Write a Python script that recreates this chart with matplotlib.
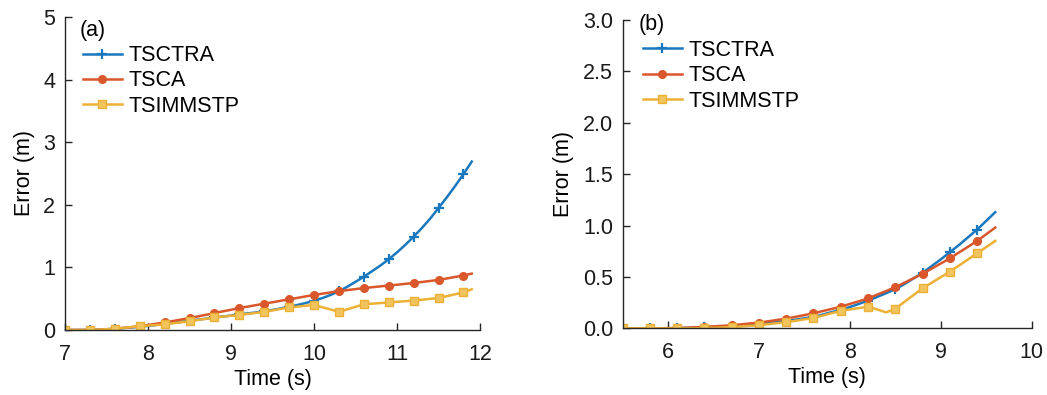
# Tracking error comparison, two panels (a) and (b)

import numpy as np
import matplotlib
matplotlib.use('Agg')
import matplotlib.pyplot as plt
from matplotlib.ticker import FormatStrFormatter

# ---- data (0.1 s steps, markers every 0.3 s) ----
time_a = [7.0, 7.1, 7.2, 7.3, 7.4, 7.5, 7.6, 7.7, 7.8, 7.9,
          8.0, 8.1, 8.2, 8.3, 8.4, 8.5, 8.6, 8.7, 8.8, 8.9,
          9.0, 9.1, 9.2, 9.3, 9.4, 9.5, 9.6, 9.7, 9.8, 9.9,
          10.0, 10.1, 10.2, 10.3, 10.4, 10.5, 10.6, 10.7, 10.8, 10.9,
          11.0, 11.1, 11.2, 11.3, 11.4, 11.5, 11.6, 11.7, 11.8, 11.9]
tsctra_a = [0, 0, 0, 0, 0.005, 0.01, 0.02, 0.03, 0.04, 0.05,
            0.065, 0.08, 0.10, 0.115, 0.13, 0.15, 0.165, 0.18, 0.20, 0.215,
            0.23, 0.25, 0.265, 0.28, 0.30, 0.32, 0.345, 0.37, 0.40, 0.43,
            0.47, 0.51, 0.56, 0.62, 0.69, 0.77, 0.85, 0.94, 1.03, 1.13,
            1.24, 1.36, 1.49, 1.63, 1.78, 1.95, 2.12, 2.30, 2.49, 2.69]
tsca_a = [0, 0, 0, 0, 0.005, 0.012, 0.02, 0.033, 0.046, 0.06,
          0.08, 0.10, 0.12, 0.143, 0.167, 0.19, 0.217, 0.243, 0.27, 0.297,
          0.323, 0.35, 0.373, 0.397, 0.42, 0.443, 0.467, 0.49, 0.513, 0.537,
          0.56, 0.58, 0.60, 0.62, 0.637, 0.653, 0.67, 0.683, 0.697, 0.71,
          0.723, 0.737, 0.75, 0.767, 0.783, 0.80, 0.823, 0.847, 0.87, 0.90]
tsimmstp_a = [0, 0, 0, 0, 0.005, 0.012, 0.02, 0.033, 0.046, 0.06,
              0.07, 0.08, 0.09, 0.107, 0.123, 0.14, 0.16, 0.18, 0.20, 0.213,
              0.227, 0.24, 0.257, 0.273, 0.29, 0.313, 0.337, 0.36, 0.373, 0.387,
              0.40, 0.363, 0.327, 0.29, 0.33, 0.37, 0.41, 0.42, 0.43, 0.44,
              0.45, 0.46, 0.47, 0.483, 0.497, 0.51, 0.54, 0.57, 0.60, 0.65]

time_b = [5.5, 5.6, 5.7, 5.8, 5.9, 6.0, 6.1, 6.2, 6.3, 6.4,
          6.5, 6.6, 6.7, 6.8, 6.9, 7.0, 7.1, 7.2, 7.3, 7.4,
          7.5, 7.6, 7.7, 7.8, 7.9, 8.0, 8.1, 8.2, 8.3, 8.4,
          8.5, 8.6, 8.7, 8.8, 8.9, 9.0, 9.1, 9.2, 9.3, 9.4,
          9.5, 9.6]
tsctra_b = [0, 0, 0, 0, 0, 0, 0, 0.003, 0.006, 0.01,
            0.013, 0.017, 0.02, 0.027, 0.033, 0.04, 0.05, 0.06, 0.07, 0.083,
            0.097, 0.11, 0.133, 0.157, 0.18, 0.207, 0.237, 0.27, 0.305, 0.342,
            0.38, 0.43, 0.485, 0.54, 0.605, 0.67, 0.74, 0.81, 0.885, 0.96,
            1.045, 1.13]
tsca_b = [0, 0, 0, 0, 0, 0.002, 0.003, 0.006, 0.01, 0.013,
          0.019, 0.024, 0.03, 0.038, 0.047, 0.055, 0.068, 0.081, 0.094, 0.111,
          0.128, 0.146, 0.167, 0.188, 0.21, 0.237, 0.263, 0.29, 0.327, 0.363,
          0.40, 0.443, 0.487, 0.53, 0.58, 0.63, 0.68, 0.737, 0.793, 0.85,
          0.915, 0.98]
tsimmstp_b = [0, 0, 0, 0, 0, 0, 0, 0, 0, 0.002,
              0.005, 0.008, 0.012, 0.018, 0.024, 0.03, 0.04, 0.05, 0.06, 0.073,
              0.087, 0.10, 0.123, 0.147, 0.17, 0.183, 0.197, 0.21, 0.183, 0.155,
              0.19, 0.257, 0.323, 0.39, 0.443, 0.497, 0.55, 0.61, 0.67, 0.73,
              0.79, 0.85]

labels = ['TSCTRA', 'TSCA', 'TSIMMSTP']

plt.rcParams['font.family'] = ['Liberation Sans', 'DejaVu Sans']
FS = 15.5
plt.rcParams['font.size'] = FS

colors = ['#1a78bf', '#d9572a', '#ebb035']
faces = ['#1a78bf', '#d9572a', '#f2c45e']
markers = ['+', 'o', 's']
msizes = [7, 5.5, 6]


def draw(ax, t, series, tag, tag_xy, leg_xy):
    for y, c, fc, m, ms, lab in zip(series, colors, faces, markers, msizes, labels):
        ax.plot(t, y, color=c, lw=1.8, marker=m, ms=ms, markevery=3,
                mew=1.6 if m == '+' else 1.0, mfc=fc, mec=c, label=lab)
    for side in ['top', 'right']:
        ax.spines[side].set_visible(False)
    for side in ['left', 'bottom']:
        ax.spines[side].set_color('#262626')
        ax.spines[side].set_linewidth(1.0)
    ax.tick_params(direction='in', length=5, width=1.0, colors='#262626',
                   labelcolor='#1a1a1a', labelsize=FS, pad=7)
    ax.tick_params(axis='x', pad=10)
    ax.set_xlabel('Time (s)', fontsize=FS, labelpad=3)
    ax.set_ylabel('Error (m)', fontsize=FS, labelpad=6)
    ax.text(tag_xy[0], tag_xy[1], tag, transform=ax.transAxes, fontsize=FS,
            va='center', ha='left')
    ax.legend(loc='upper left', bbox_to_anchor=leg_xy, frameon=False,
              handlelength=1.8, handletextpad=0.3, labelspacing=0.2,
              fontsize=FS, borderaxespad=0, borderpad=0)


fig = plt.figure(figsize=(10.47, 3.95), dpi=100)

ax1 = fig.add_axes([0.0621, 0.1646, 0.3964, 0.7924])
draw(ax1, time_a, [tsctra_a, tsca_a, tsimmstp_a], '(a)',
     (0.036, 0.958), (0.043, 0.91))
ax1.set_xlim(7, 12)
ax1.set_ylim(0, 5)
ax1.set_xticks([7, 8, 9, 10, 11, 12])
ax1.set_yticks([0, 1, 2, 3, 4, 5])

ax2 = fig.add_axes([0.5947, 0.1689, 0.3906, 0.7805])
draw(ax2, time_b, [tsctra_b, tsca_b, tsimmstp_b], '(b)',
     (0.04, 0.985), (0.05, 0.935))
ax2.set_xlim(5.5, 10)
ax2.set_ylim(0, 3)
ax2.set_xticks([6, 7, 8, 9, 10])
ax2.set_yticks(np.arange(0, 3.01, 0.5))
ax2.yaxis.set_major_formatter(FormatStrFormatter('%.1f'))

fig.savefig('out.png', dpi=100)
